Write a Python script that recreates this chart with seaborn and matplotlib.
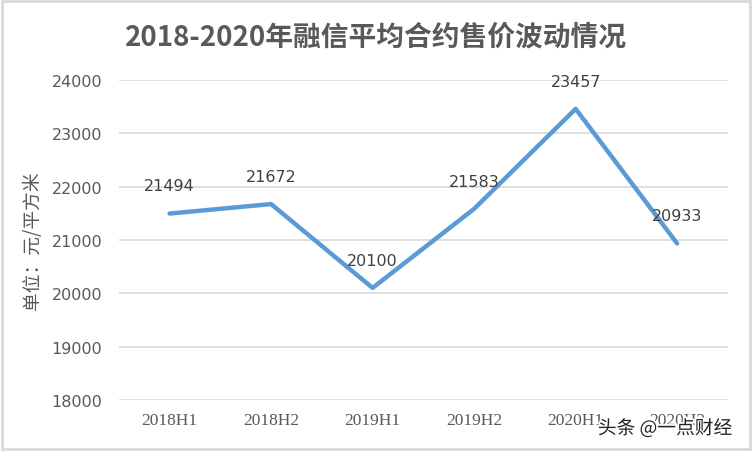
import pandas as pd
import matplotlib.pyplot as plt
import seaborn as sns
from matplotlib.patches import Rectangle
import matplotlib.patheffects as pe

sns.set_theme(style="white")
plt.rcParams['font.family'] = ['Noto Sans CJK SC', 'DejaVu Sans']

periods = ['2018H1', '2018H2', '2019H1', '2019H2', '2020H1', '2020H2']
prices = [21494, 21672, 20100, 21583, 23457, 20933]
y_ticks = [18000, 19000, 20000, 21000, 22000, 23000, 24000]

df = pd.DataFrame({'period': periods, 'price': prices})

fig = plt.figure(figsize=(7.52, 4.52), dpi=100)
ax = fig.add_axes([0.158, 0.113, 0.81, 0.708])

sns.lineplot(data=df, x='period', y='price', ax=ax, color='#5B9BD5', lw=3.2,
             sort=False)

# data labels above each point
for i, v in enumerate(prices):
    ax.annotate(str(v), (i, v), xytext=(0, 20), textcoords='offset points',
                ha='center', va='center', fontsize=11.5, color='#404040',
                family=['DejaVu Sans'])

ax.set_ylim(18000, 24000)
ax.set_xlim(-0.5, 5.5)
ax.set_yticks(y_ticks)
ax.set_yticklabels([str(t) for t in y_ticks], fontsize=11.5, color='#595959',
                   family=['DejaVu Sans'])
ax.set_xticks(range(len(periods)))
ax.set_xticklabels(periods, fontsize=12.5, color='#595959', family=['Liberation Serif'])
ax.tick_params(axis='y', length=0, pad=12)
ax.tick_params(axis='x', length=0, pad=9)
ax.grid(axis='y', color='#D9D9D9', lw=1.2)
ax.set_axisbelow(True)
for s in ax.spines.values():
    s.set_visible(False)

ax.set_xlabel('')
ax.set_ylabel('单位：元/平方米', fontsize=13.5, color='#595959', labelpad=6)

fig.text(0.5, 0.918, '2018-2020年融信平均合约售价波动情况', ha='center', va='center',
         fontsize=20, fontweight='bold', color='#595959')

# watermark
fig.text(0.795, 0.05, '头条 @一点财经', ha='left', va='center', fontsize=13.5,
         color='#222222', path_effects=[pe.withStroke(linewidth=2.5, foreground='white')])

fig.patches.append(Rectangle((0.002, 0.004), 0.996, 0.992, transform=fig.transFigure,
                             fill=False, edgecolor='#D9D9D9', lw=2))

fig.savefig('out.png', dpi=100)
